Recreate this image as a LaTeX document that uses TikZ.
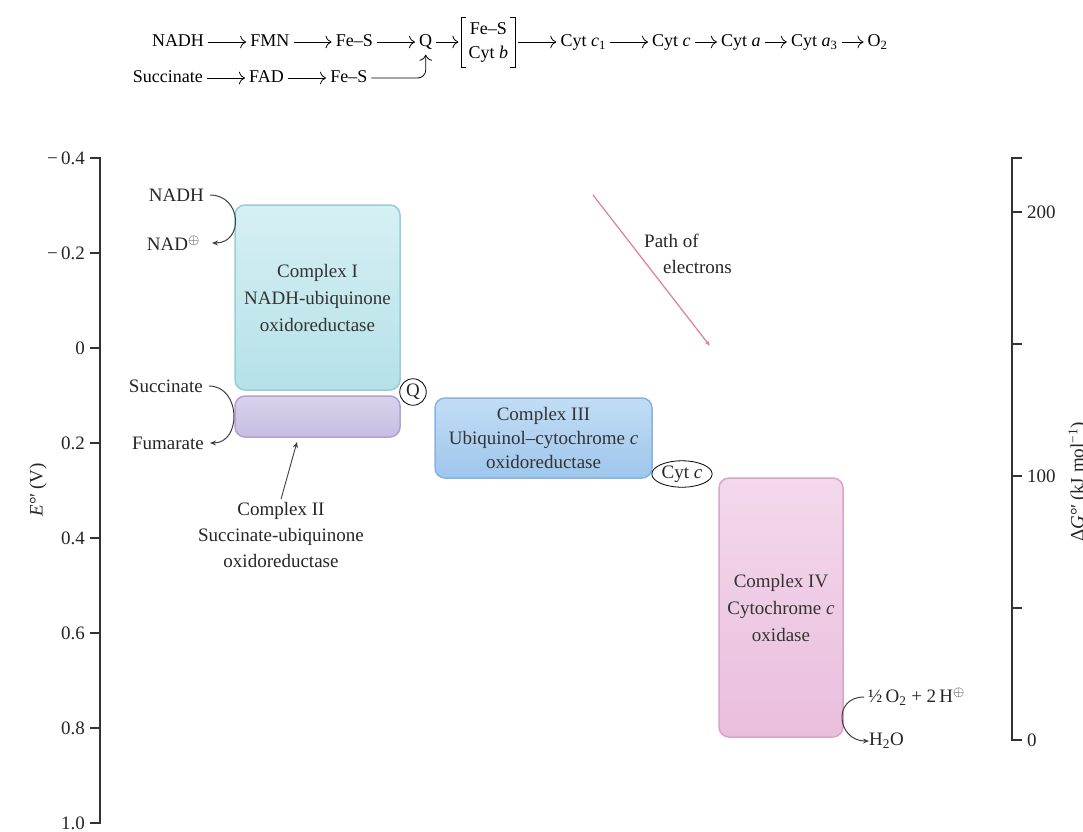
\documentclass[tikz,border=0pt]{standalone}
\usepackage{fontspec}
\setmainfont{Liberation Serif}
\usetikzlibrary{positioning,arrows.meta,shapes.geometric}
\definecolor{cIa}{HTML}{D6F0F4}
\definecolor{cIb}{HTML}{B5E1E8}
\definecolor{cIe}{HTML}{96CDD6}
\definecolor{cIIa}{HTML}{DAD2EC}
\definecolor{cIIb}{HTML}{C8BDE2}
\definecolor{cIIe}{HTML}{AFA3D0}
\definecolor{cIIIa}{HTML}{C2DDF5}
\definecolor{cIIIb}{HTML}{9EC6EC}
\definecolor{cIIIe}{HTML}{86B3DF}
\definecolor{cIVa}{HTML}{F4D8EC}
\definecolor{cIVb}{HTML}{E9BEDD}
\definecolor{cIVe}{HTML}{D6A6C8}
\definecolor{epath}{HTML}{DE7F97}

\begin{document}
\begin{tikzpicture}[x=1pt,y=-1pt]
\pgfmathsetmacro{\lg}{44}
\pgfmathsetmacro{\sg}{28}
\tikzstyle{spc}=[inner sep=1pt, text height=13pt, text depth=4pt, font=\fontsize{18}{26}\selectfont]
\tikzstyle{brk}=[inner xsep=7pt, inner ysep=5pt, align=center, font=\fontsize{18}{24}\selectfont]
\tikzstyle{rxn}=[-{To[length=6pt]}, line width=0.8pt, shorten <=3pt, shorten >=3pt]
\tikzstyle{cpx}=[draw, rounded corners=10pt, line width=1.5pt, align=center, text=black!80, font=\fontsize{19}{27}\selectfont]
\tikzstyle{side}=[inner sep=1pt, text=black!85, font=\fontsize{19}{26}\selectfont]
\tikzstyle{turn}=[-{Stealth[length=6pt,width=5pt]}, line width=1pt, black!75]
\tikzstyle{ax}=[line width=1.8pt, black!80]

\fill[white] (0,0) rectangle (1083,831);
\useasboundingbox (0,0) rectangle (1083,831);

\node[spc] (nadh) at (178,42) {NADH};
\node[spc, right=\lg pt of nadh] (fmn) {FMN};
\node[spc, right=\lg pt of fmn] (fes1) {Fe--S};
\node[spc, right=\lg pt of fes1] (q) {Q};
\node[brk, right=\sg pt of q] (fesb) {Fe--S\\Cyt \textit{b}};
\node[spc, right=\lg pt of fesb] (cytc1) {Cyt \textit{c}\textsubscript{1}};
\node[spc, right=\lg pt of cytc1] (cytc) {Cyt \textit{c}};
\node[spc, right=\sg pt of cytc] (cyta) {Cyt \textit{a}};
\node[spc, right=\sg pt of cyta] (cyta3) {Cyt \textit{a}\textsubscript{3}};
\node[spc, right=\sg pt of cyta3] (otwo) {O\textsubscript{2}};
\node[spc, anchor=east] (succ) at (204,78) {Succinate};
\node[spc, right=\lg pt of succ] (fad) {FAD};
\node[spc, right=\lg pt of fad] (fes2) {Fe--S};
\foreach \i/\j in {nadh/fmn, fmn/fes1, fes1/q, q/fesb, fesb/cytc1, cytc1/cytc, cytc/cyta, cyta/cyta3, cyta3/otwo, succ/fad, fad/fes2}{\draw[rxn] (\i) -- (\j);}
\draw[rxn, rounded corners=8pt] (fes2.east) -| (q.south);
\draw[line width=0.8pt] ([xshift=5pt]fesb.north west) -- (fesb.north west) -- (fesb.south west) -- ([xshift=5pt]fesb.south west);
\draw[line width=0.8pt] ([xshift=-5pt]fesb.north east) -- (fesb.north east) -- (fesb.south east) -- ([xshift=-5pt]fesb.south east);

\draw[ax] (90,158) -- (100,158) -- (100,823) -- (90,823);
\foreach \v/\y in {−\,0.4/158, −\,0.2/253, 0/348, 0.2/443, 0.4/538, 0.6/633, 0.8/728, 1.0/823}{
  \draw[ax] (90,\y) -- (100,\y);
  \node[side, anchor=east] (e\y) at (86,\y) {\v};
}
\node[side, rotate=90] (elbl) at (38,490) {\textit{E}°′\,(V)};

\draw[ax] (1022,158) -- (1012,158) -- (1012,740) -- (1022,740);
\foreach \y in {212, 344, 476, 608}{\draw[ax] (1012,\y) -- (1022,\y);}
\foreach \v/\y in {200/212, 100/476, 0/740}{\node[side, anchor=west] (g\v) at (1026,\y) {\v};}
\node[side, rotate=90] (glbl) at (1078,482) {Δ\textit{G}°′\,(kJ mol\textsuperscript{−1})};

\node[cpx, shade, top color=cIa, bottom color=cIb, draw=cIe, minimum width=165pt, minimum height=185pt] (c1) at (317.5,297.5) {Complex I\\NADH-ubiquinone\\oxidoreductase};
\node[cpx, shade, top color=cIIa, bottom color=cIIb, draw=cIIe, minimum width=165pt, minimum height=41pt] (c2) at (317.5,416.5) {};
\node[cpx, shade, top color=cIIIa, bottom color=cIIIb, draw=cIIIe, minimum width=217pt, minimum height=80pt, font=\fontsize{19}{24}\selectfont] (c3) at (543.5,438) {Complex III\\Ubiquinol--cytochrome \textit{c}\\oxidoreductase};
\node[cpx, shade, top color=cIVa, bottom color=cIVb, draw=cIVe, minimum width=124pt, minimum height=259pt] (c4) at (781,607.5) {Complex IV\\Cytochrome \textit{c}\\oxidase};

\node[side, draw, circle, inner sep=2pt, line width=0.8pt] (qq) at (413,392) {Q};
\node[side, draw, ellipse, inner sep=1pt, line width=0.8pt] (cc) at (682,474) {Cyt \textit{c}};

\node[side, anchor=east] (nadhl) at (205,195) {NADH};
\node[side, anchor=east] (nadl) at (201,243) {NAD$^{\oplus}$};
\node[side, anchor=east] (succl) at (204,386) {Succinate};
\node[side, anchor=east] (fuml) at (205,443) {Fumarate};
\node[side, anchor=west] (oxl) at (867,697) {½\,O\textsubscript{2} + 2\,H$^{\oplus}$};
\node[side, anchor=west] (h2ol) at (868,741) {H\textsubscript{2}O};
\draw[turn] ([xshift=5pt]nadhl.east) .. controls +(32,0) and +(32,0) .. ([xshift=11pt]nadl.east);
\draw[turn] ([xshift=5pt]succl.east) .. controls +(32,0) and +(32,0) .. ([xshift=5pt]fuml.east);
\draw[turn] ([xshift=-3pt]oxl.west) .. controls +(-32,0) and +(-32,0) .. ([xshift=1pt]h2ol.west);

\node[side, align=center] (c2lbl) at (281,535) {Complex II\\Succinate-ubiquinone\\oxidoreductase};
\coordinate (c2tip) at (297,442);
\draw[turn, line width=0.9pt] ([yshift=2pt]c2lbl.north) -- (c2tip);

\coordinate (ps) at (593,195);
\coordinate (pe) at (710,346);
\draw[-{Stealth[length=6pt,width=4pt]}, line width=1.2pt, epath] (ps) -- (pe);
\node[side, align=left] (plbl) at (688,254) {Path of\\\hspace*{1em}electrons};
\end{tikzpicture}
\end{document}
